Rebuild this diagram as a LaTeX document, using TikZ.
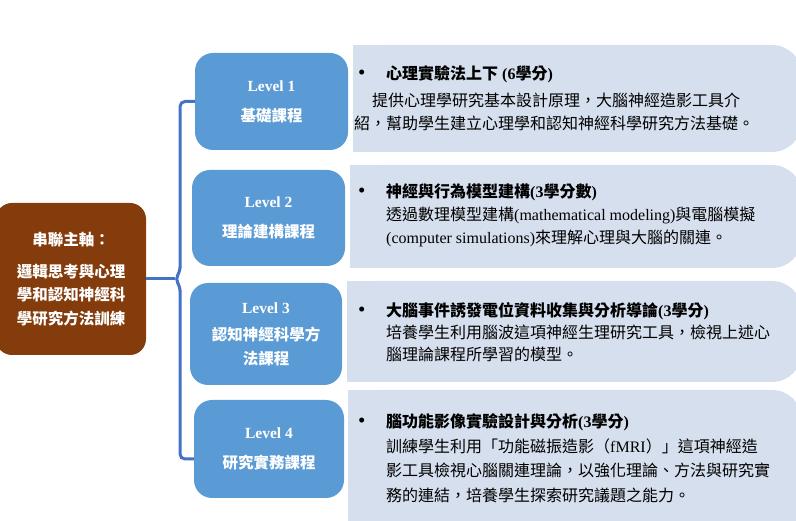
\documentclass[tikz,border=0pt]{standalone}
\usepackage{fontspec}
\setmainfont{Liberation Serif}
\newfontfamily\zh{Noto Sans CJK TC}

\definecolor{axisbrown}{RGB}{132,60,12}
\definecolor{levelblue}{RGB}{91,155,213}
\definecolor{descgray}{RGB}{214,223,237}
\definecolor{braceblue}{RGB}{68,114,196}

\newcommand{\bulletmark}{\makebox[32pt][l]{\hspace{4pt}{\fontsize{21}{16}\selectfont\textbullet}}}

\tikzset{
  axisbox/.style={fill=axisbrown, rounded corners=16pt, minimum width=150pt, minimum height=152pt,
    text=white, align=center, font=\zh\bfseries\fontsize{15.5}{23.5}\selectfont},
  levelbox/.style={fill=levelblue, rounded corners=18pt, text=white, align=center,
    font=\bfseries\fontsize{15.5}{24}\selectfont},
  descbg/.style={fill=descgray},
  desctext/.style={anchor=west, align=left, inner sep=0pt, font=\fontsize{16}{23}\selectfont},
  brace/.style={draw=braceblue, line width=3pt},
}

\begin{document}
\begin{tikzpicture}[x=1pt, y=-1pt]
\useasboundingbox (0,0) rectangle (796,521);

% panels behind the course texts
\foreach \xa/\ya/\yb in {353/45/152, 350/165/268, 347/281/382, 348/390/560} {
  \fill[descbg, rounded corners=30pt] (\xa,\ya) rectangle (802,\yb);
  \fill[descbg] (\xa,\ya) rectangle (\xa+40,\yb);
}

\node[axisbox] (axis) at (71,279) {串聯主軸：\\[8pt]邏輯思考與心理\\學和認知神經科\\學研究方法訓練};

\node[levelbox, minimum width=153pt, minimum height=97pt] (lv1) at (271.5,101.5) {Level 1\\[6pt]{\zh 基礎課程}};
\node[levelbox, minimum width=153pt, minimum height=96pt] (lv2) at (268.5,218) {Level 2\\[6pt]{\zh 理論建構課程}};
\node[levelbox, minimum width=152pt, minimum height=102pt] (lv3) at (266,334) {Level 3\\[3pt]{\zh 認知神經科學方}\\{\zh 法課程}};
\node[levelbox, minimum width=150pt, minimum height=98pt] (lv4) at (269,449) {Level 4\\[6pt]{\zh 研究實務課程}};

\node[desctext] (d1) at (354,98) {\bulletmark\textbf{{\zh 心理實驗法上下} (6{\zh 學分})}\\[4pt]
  \hspace*{18pt}{\zh 提供心理學研究基本設計原理，大腦神經造影工具介}\\
  {\zh 紹，幫助學生建立心理學和認知神經科學研究方法基礎。}};
\node[desctext] (d2) at (354,215) {\bulletmark\textbf{{\zh 神經與行為模型建構}(3{\zh 學分數})}\\
  \hspace*{32pt}{\zh 透過數理模型建構}(mathematical modeling){\zh 與電腦模擬}\\
  \hspace*{32pt}(computer simulations){\zh 來理解心理與大腦的關連。}};
\node[desctext, font=\fontsize{16}{22}\selectfont] (d3) at (354,332) {\bulletmark\textbf{{\zh 大腦事件誘發電位資料收集與分析導論}(3{\zh 學分})}\\
  \hspace*{32pt}{\zh 培養學生利用腦波這項神經生理研究工具，檢視上述心}\\
  \hspace*{32pt}{\zh 腦理論課程所學習的模型。}};
\node[desctext, font=\fontsize{16}{24.5}\selectfont] (d4) at (354,458) {\bulletmark\textbf{{\zh 腦功能影像實驗設計與分析}(3{\zh 學分})}\\
  \hspace*{32pt}{\zh 訓練學生利用「功能磁振造影（}fMRI{\zh ）」這項神經造}\\
  \hspace*{32pt}{\zh 影工具檢視心腦關連理論，以強化理論、方法與研究實}\\
  \hspace*{32pt}{\zh 務的連結，培養學生探索研究議題之能力。}};

% brace joining the axis to the four levels
\coordinate (tip) at (175,279);
\draw[brace] (axis.east) -- (tip);
\draw[brace, rounded corners=5pt] (lv1.west) -| (180,272) -- (tip) -- (180,286) |- ([yshift=-10pt]lv4.west);
\end{tikzpicture}
\end{document}
